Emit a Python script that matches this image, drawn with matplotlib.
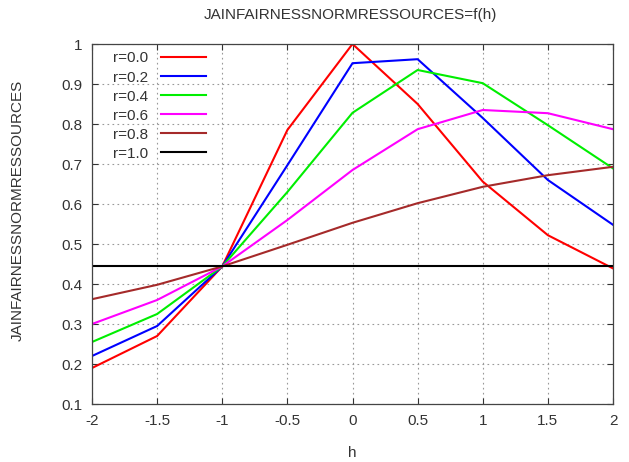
import matplotlib
matplotlib.use("Agg")
import matplotlib.pyplot as plt

h = [-2, -1.5, -1, -0.5, 0, 0.5, 1, 1.5, 2]
labels = ["r=0.0", "r=0.2", "r=0.4", "r=0.6", "r=0.8", "r=1.0"]
colors = ["#ff0000", "#0000ff", "#00ee00", "#ff00ff", "#a52a2a", "#000000"]
r00 = [0.19, 0.27, 0.444, 0.785, 1.0, 0.85, 0.656, 0.522, 0.439]
r02 = [0.22, 0.295, 0.444, 0.697, 0.952, 0.962, 0.815, 0.66, 0.548]
r04 = [0.255, 0.325, 0.444, 0.63, 0.828, 0.935, 0.902, 0.797, 0.689]
r06 = [0.30, 0.36, 0.444, 0.56, 0.685, 0.787, 0.835, 0.827, 0.787]
r08 = [0.362, 0.398, 0.444, 0.498, 0.553, 0.602, 0.643, 0.672, 0.693]
r10 = [0.444, 0.444, 0.444, 0.444, 0.444, 0.444, 0.444, 0.444, 0.444]
series = [r00, r02, r04, r06, r08, r10]

xticks = [-2, -1.5, -1, -0.5, 0, 0.5, 1, 1.5, 2]
xticklabels = ["-2", "-1.5", "-1", "-0.5", "0", "0.5", "1", "1.5", "2"]
yticks = [0.1, 0.2, 0.3, 0.4, 0.5, 0.6, 0.7, 0.8, 0.9, 1.0]
yticklabels = ["0.1", "0.2", "0.3", "0.4", "0.5", "0.6", "0.7", "0.8", "0.9", "1"]

plt.rcParams['font.family'] = ['Liberation Sans', 'DejaVu Sans']
txt = '#333333'
FS = 11

fig = plt.figure(figsize=(6.29, 4.62), dpi=100)
ax = fig.add_axes([92/629, 58/462, (613-92)/629, (404-44)/462])

for ys, lab, c in zip(series, labels, colors):
    ax.plot(h, ys, color=c, lw=1.5, label=lab)

ax.set_xlim(-2, 2)
ax.set_ylim(0.1, 1.0)
ax.set_xticks(xticks)
ax.set_xticklabels(xticklabels)
ax.set_yticks(yticks)
ax.set_yticklabels(yticklabels)
ax.grid(True, color='#999999', linestyle=(0, (1.5, 3)), lw=0.8)
ax.tick_params(direction='in', top=True, right=True, length=4, labelsize=FS,
               colors=txt, pad=7, width=0.8)
for s in ax.spines.values():
    s.set_color('#444444')
    s.set_linewidth(0.9)

fig.text(350/629, 1 - 15/462, "JAINFAIRNESSNORMRESSOURCES=f(h)", fontsize=FS,
         color=txt, ha='center', va='center')
ax.set_xlabel("h", fontsize=FS, color=txt, labelpad=13)
fig.text(18/629, 1 - 210/462, "JAINFAIRNESSNORMRESSOURCES", fontsize=FS,
         color=txt, ha='center', va='center', rotation=90)

leg = ax.legend(loc='upper left', frameon=False, markerfirst=False, fontsize=FS,
                handlelength=2.94, labelspacing=0.33, borderaxespad=0.0,
                borderpad=0.0, handletextpad=0.83,
                bbox_to_anchor=(21/521, 1 - 7.5/360))
for t in leg.get_texts():
    t.set_color(txt)
    t.set_ha('right')

fig.savefig("out.png", dpi=100)
